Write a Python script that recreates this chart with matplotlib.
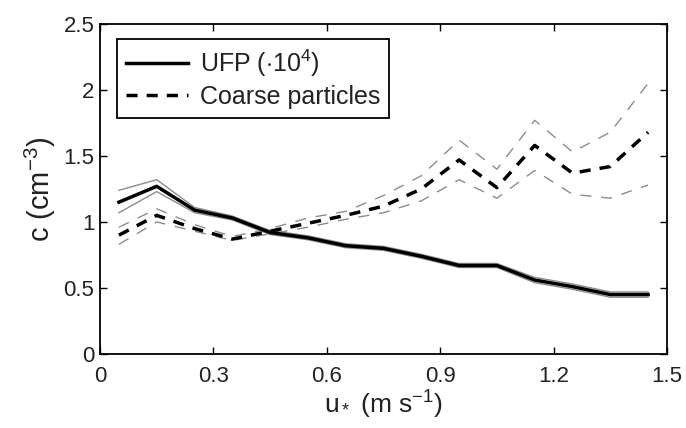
import matplotlib
matplotlib.use('Agg')
import matplotlib.pyplot as plt
import numpy as np

plt.rcParams['font.family'] = ['Liberation Sans', 'DejaVu Sans']
plt.rcParams['mathtext.fontset'] = 'custom'
plt.rcParams['mathtext.rm'] = 'Liberation Sans'
plt.rcParams['mathtext.it'] = 'Liberation Sans'
plt.rcParams['lines.scale_dashes'] = False

# friction velocity bins (m s-1)
ustar = [0.05, 0.15, 0.25, 0.35, 0.45, 0.55, 0.65, 0.75, 0.85, 0.95, 1.05, 1.15, 1.25, 1.35, 1.45]

# UFP concentration (scaled by 1e4) and its bounds
ufp = [1.15, 1.27, 1.09, 1.03, 0.92, 0.88, 0.82, 0.80, 0.74, 0.67, 0.67, 0.56, 0.51, 0.45, 0.45]
ufp_hi = [1.24, 1.32, 1.11, 1.045, 0.935, 0.895, 0.835, 0.815, 0.755, 0.685, 0.685, 0.58, 0.53, 0.47, 0.47]
ufp_lo = [1.07, 1.23, 1.07, 1.015, 0.905, 0.865, 0.805, 0.785, 0.725, 0.655, 0.655, 0.54, 0.49, 0.43, 0.43]

# coarse particle concentration and its bounds
coarse = [0.90, 1.05, 0.95, 0.87, 0.93, 0.99, 1.05, 1.12, 1.25, 1.47, 1.26, 1.58, 1.37, 1.42, 1.68]
coarse_hi = [0.96, 1.10, 0.98, 0.89, 0.95, 1.03, 1.08, 1.20, 1.35, 1.62, 1.40, 1.77, 1.53, 1.68, 2.05]
coarse_lo = [0.83, 1.00, 0.93, 0.86, 0.91, 0.96, 1.02, 1.07, 1.16, 1.32, 1.18, 1.39, 1.21, 1.18, 1.28]

fig = plt.figure(figsize=(6.86, 4.28), dpi=100)
ax = fig.add_axes([0.1458, 0.173, 0.8265, 0.771])

ax.plot(ustar, ufp_hi, color='#8c8c8c', lw=1.0)
ax.plot(ustar, ufp_lo, color='#8c8c8c', lw=1.0)
ax.plot(ustar, coarse_hi, color='#8c8c8c', lw=1.0, dashes=(8, 7))
ax.plot(ustar, coarse_lo, color='#8c8c8c', lw=1.0, dashes=(8, 7))
ax.plot(ustar, ufp, color='black', lw=2.5, label=r'UFP ($\cdot$10$^4$)')
ax.plot(ustar, coarse, color='black', lw=2.5, dashes=(8, 6.5), label='Coarse particles')

ax.set_xlim(0, 1.5)
ax.set_ylim(0, 2.5)
ax.set_xticks([0, 0.3, 0.6, 0.9, 1.2, 1.5])
ax.set_xticklabels(['0', '0.3', '0.6', '0.9', '1.2', '1.5'])
ax.set_yticks([0, 0.5, 1, 1.5, 2, 2.5])
ax.set_yticklabels(['0', '0.5', '1', '1.5', '2', '2.5'])
ax.tick_params(direction='in', top=True, right=True, length=5, width=1,
               labelsize=16, labelcolor='#222222')
ax.tick_params(axis='x', pad=9)
ax.tick_params(axis='y', pad=4)
for s in ax.spines.values():
    s.set_linewidth(1.3)

ax.set_xlabel(r'u$_*$ (m s$^{-1}$)', fontsize=19, labelpad=1, color='#222222')
ax.set_ylabel(r'c (cm$^{-3}$)', fontsize=21, labelpad=4, color='#222222')

leg = ax.legend(loc='upper left', bbox_to_anchor=(0.03, 0.955), borderaxespad=0,
                fontsize=18, handlelength=2.5, fancybox=False, framealpha=1,
                edgecolor='black', borderpad=0.35, labelspacing=0.25, handletextpad=0.45)
leg.get_frame().set_linewidth(1.3)
for t in leg.get_texts():
    t.set_color('#222222')

fig.savefig('out.png', dpi=100)
